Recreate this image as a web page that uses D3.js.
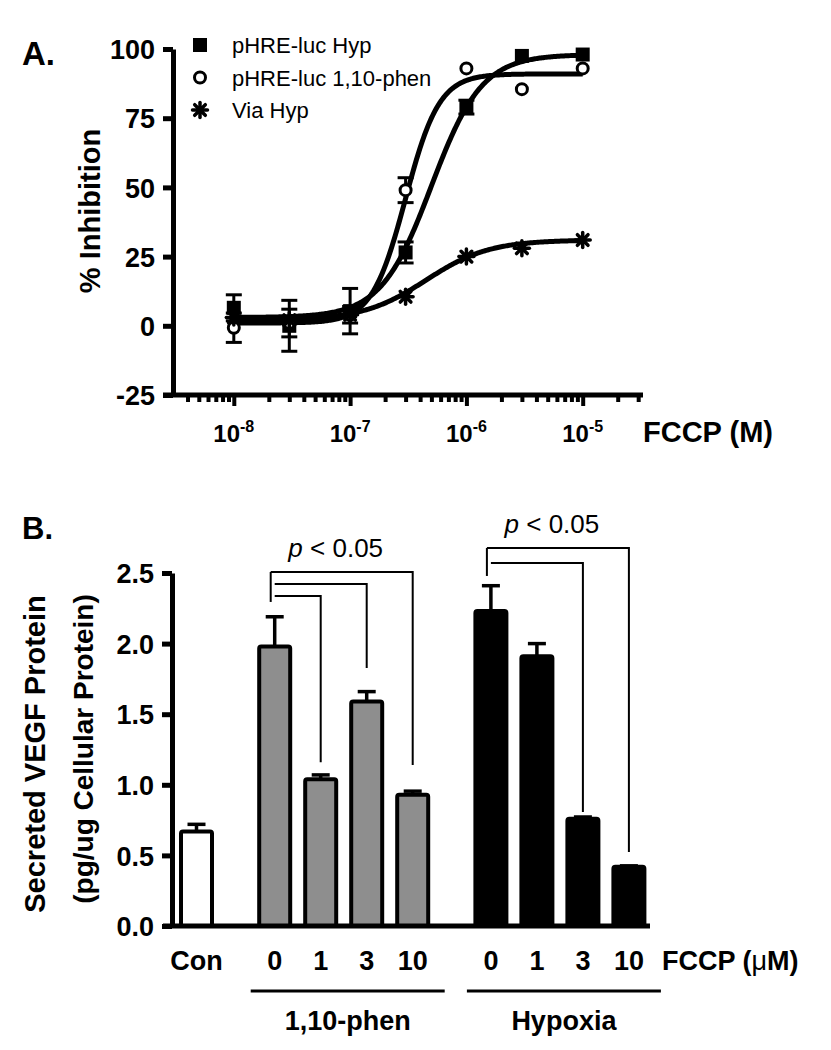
<!DOCTYPE html>
<html>
<head>
<meta charset="utf-8">
<script src="https://cdn.jsdelivr.net/npm/d3@7"></script>
<style>
  body { margin: 0; background: #fff; }
  text { font-family: "Liberation Sans", Arial, Helvetica, sans-serif; fill: #000; }
</style>
</head>
<body>
<svg id="chart" width="831" height="1050"></svg>
<script>
// ---------- panel A : FCCP dose response ----------
const fccpConc = [1e-8, 3e-8, 1e-7, 3e-7, 1e-6, 3e-6, 1e-5];
const hypMean  = [6.5, 0, 5.3, 26.5, 79, 97.5, 98];
const hypErr   = [4.7, 9.2, 8.2, 3.8, 2.5, 0, 0];
const phenMean = [-0.7, 1, 4, 49, 93, 85.5, 93];
const phenErr  = [5.3, 5, 3, 4.5, 0, 0, 0];
const viaMean  = [3, 2, 4, 10.5, 25, 28, 31];
const viaErr   = [0, 0, 0, 0, 0, 0, 0];
// sigmoid fits: bottom, top, EC50 (M), hill slope
const hypFit  = [3, 98, 5e-7, 2];
const phenFit = [1, 91, 3e-7, 3];
const viaFit  = [2, 31, 4.5e-7, 1.6];
const legendNames = ["pHRE-luc Hyp", "pHRE-luc 1,10-phen", "Via Hyp"];
const yTicksA = [-25, 0, 25, 50, 75, 100];
const xMajorA = [-8, -7, -6, -5];

// ---------- panel B : secreted VEGF ----------
const vegfLabels = ["Con", "0", "1", "3", "10", "0", "1", "3", "10"];
const vegfGroup  = [0, 1, 1, 1, 1, 2, 2, 2, 2];
const vegfMean   = [0.67, 1.98, 1.04, 1.59, 0.93, 2.23, 1.91, 0.76, 0.42];
const vegfErr    = [0.05, 0.21, 0.03, 0.07, 0.025, 0.18, 0.09, 0.012, 0.006];
const groupNames = ["1,10-phen", "Hypoxia"];
const groupFill  = ["#ffffff", "#8e8e8e", "#000000"];
const yTicksB = [0, 0.5, 1.0, 1.5, 2.0, 2.5];
// significance brackets: source bar, target bars, line levels, drop ends
const sigFrom    = [1, 5];
const sigTargets = [[4, 3, 2], [8, 7]];
const sigLevels  = [[2.507, 2.422, 2.337], [2.677, 2.571]];
const sigEnds    = [[1.14, 1.827, 1.16], [0.524, 0.807]];
const sigBase    = [2.295, 2.479];

const svg = d3.select("#chart");
svg.append("rect").attr("width", 831).attr("height", 1050).attr("fill", "#fff");

// ================= PANEL A =================
const xA = d3.scaleLog().domain([3e-9, 3.3e-5]).range([173, 643]);
const yA = d3.scaleLinear().domain([-25, 100]).range([395, 49]);

svg.append("text").attr("x", 22).attr("y", 65)
  .attr("font-size", 33).attr("font-weight", "bold").text("A.");

// fitted curves
function sigmoid(p) {
  return x => p[0] + (p[1] - p[0]) / (1 + Math.pow(p[2] / x, p[3]));
}
const curveX = d3.range(0, 301).map(i => Math.pow(10, -8 + i / 100));
const line = d3.line().x(d => xA(d[0])).y(d => yA(d[1]));
[hypFit, phenFit, viaFit].forEach(p => {
  const f = sigmoid(p);
  svg.append("path")
    .attr("d", line(curveX.map(x => [x, f(x)])))
    .attr("fill", "none").attr("stroke", "#000").attr("stroke-width", 5)
    .attr("stroke-linejoin", "round");
});

// error bars
const seriesA = [
  { mean: hypMean, err: hypErr, sym: "square" },
  { mean: phenMean, err: phenErr, sym: "circle" },
  { mean: viaMean, err: viaErr, sym: "star" }
];
seriesA.forEach(s => {
  const g = svg.append("g").attr("stroke", "#000").attr("stroke-width", 3);
  fccpConc.forEach((c, i) => {
    if (!s.err[i]) return;
    const x = xA(c), lo = yA(s.mean[i] - s.err[i]), hi = yA(s.mean[i] + s.err[i]);
    g.append("line").attr("x1", x).attr("x2", x).attr("y1", lo).attr("y2", hi);
    g.append("line").attr("x1", x - 8).attr("x2", x + 8).attr("y1", lo).attr("y2", lo);
    g.append("line").attr("x1", x - 8).attr("x2", x + 8).attr("y1", hi).attr("y2", hi);
  });
});

function drawSymbol(g, sym, x, y) {
  if (sym === "square") {
    g.append("rect").attr("x", x - 7).attr("y", y - 7).attr("width", 14).attr("height", 14)
      .attr("fill", "#000");
  } else if (sym === "circle") {
    g.append("circle").attr("cx", x).attr("cy", y).attr("r", 5.5)
      .attr("fill", "#fff").attr("stroke", "#000").attr("stroke-width", 3);
  } else {
    [0, 45, 90, 135].forEach(a => {
      const r = 7.5, t = a * Math.PI / 180;
      g.append("line")
        .attr("x1", x - r * Math.cos(t)).attr("y1", y - r * Math.sin(t))
        .attr("x2", x + r * Math.cos(t)).attr("y2", y + r * Math.sin(t))
        .attr("stroke", "#000").attr("stroke-width", 3.5).attr("stroke-linecap", "round");
    });
    g.append("circle").attr("cx", x).attr("cy", y).attr("r", 4).attr("fill", "#000");
  }
}
seriesA.forEach(s => {
  const g = svg.append("g");
  fccpConc.forEach((c, i) => drawSymbol(g, s.sym, xA(c), yA(s.mean[i])));
});

// legend
const legend = svg.append("g");
legendNames.forEach((name, i) => {
  const y = 45 + i * 32.5;
  drawSymbol(legend, seriesA[i].sym, 200, y);
  legend.append("text").attr("x", 232).attr("y", y + 8)
    .attr("font-size", 22).text(name);
});

// y axis A
const yAxisA = svg.append("g").attr("transform", "translate(173,0)")
  .call(d3.axisLeft(yA).tickValues(yTicksA).tickFormat(d => String(d))
    .tickSize(10).tickSizeOuter(0).tickPadding(8));
yAxisA.select(".domain").attr("stroke-width", 5);
yAxisA.selectAll(".tick line").attr("stroke-width", 5);
yAxisA.selectAll(".tick text").attr("font-size", 27).attr("font-weight", "bold")
  .attr("font-family", "Liberation Sans, Arial, sans-serif").attr("dy", "0.36em");

// x axis A (log, minor + major ticks)
const minorA = [];
for (let d = -9; d <= -5; d++) {
  for (let m = 2; m <= 9; m++) {
    const v = m * Math.pow(10, d);
    if (v >= 3.9e-9 && v <= 3.1e-5) minorA.push(v);
  }
}
const xAxisMinor = svg.append("g").attr("transform", "translate(0,395)")
  .call(d3.axisBottom(xA).tickValues(minorA).tickSize(7).tickFormat(""));
xAxisMinor.select(".domain").remove();
xAxisMinor.selectAll(".tick line").attr("stroke-width", 4);
const xAxisMajor = svg.append("g").attr("transform", "translate(0,395)")
  .call(d3.axisBottom(xA).tickValues(xMajorA.map(e => Math.pow(10, e))).tickSize(11).tickFormat(""));
xAxisMajor.selectAll(".tick line").attr("stroke-width", 4);
xAxisMajor.select(".domain").attr("stroke-width", 5)
  .attr("d", `M${xA.range()[0] - 10},0H${xA.range()[1]}`);

const xLab = svg.append("g");
xMajorA.forEach(e => {
  const t = xLab.append("text").attr("x", xA(Math.pow(10, e))).attr("y", 442)
    .attr("text-anchor", "middle").attr("font-weight", "bold").attr("font-size", 24);
  t.append("tspan").text("10");
  t.append("tspan").attr("font-size", 16).attr("dy", -10).text(String(e));
});
svg.append("text").attr("x", 643).attr("y", 442).attr("font-size", 29)
  .attr("font-weight", "bold").text("FCCP (M)");

svg.append("text").attr("transform", "translate(100,211) rotate(-90)")
  .attr("text-anchor", "middle").attr("font-size", 29).attr("font-weight", "bold")
  .text("% Inhibition");

// ================= PANEL B =================
const slot = vegfLabels.map((d, i) => i + 0.7 * vegfGroup[i]);
const xB = d3.scaleLinear().domain([0, d3.max(slot)]).range([196.5, 628.9]);
const yB = d3.scaleLinear().domain([0, 2.5]).range([926, 573]);
const barW = 31;

svg.append("text").attr("x", 22).attr("y", 539)
  .attr("font-size", 31).attr("font-weight", "bold").text("B.");

// bars
svg.append("g").selectAll("rect").data(vegfMean).join("rect")
  .attr("x", (d, i) => xB(slot[i]) - barW / 2)
  .attr("y", d => yB(d))
  .attr("width", barW)
  .attr("height", d => yB(0) - yB(d))
  .attr("rx", 2)
  .attr("fill", (d, i) => groupFill[vegfGroup[i]])
  .attr("stroke", "#000").attr("stroke-width", 4);

// error bars (upper only)
const errB = svg.append("g").attr("stroke", "#000").attr("stroke-width", 3.5);
vegfMean.forEach((m, i) => {
  const x = xB(slot[i]), top = yB(m + vegfErr[i]);
  errB.append("line").attr("x1", x).attr("x2", x).attr("y1", yB(m)).attr("y2", top);
  errB.append("line").attr("x1", x - 9).attr("x2", x + 9).attr("y1", top).attr("y2", top);
});

// significance brackets
const sig = svg.append("g").attr("stroke", "#000").attr("stroke-width", 2).attr("fill", "none");
sigFrom.forEach((src, k) => {
  const sx = xB(slot[src]) - 4;
  sig.append("line").attr("x1", sx).attr("x2", sx)
    .attr("y1", yB(sigBase[k])).attr("y2", yB(sigLevels[k][0]));
  sigTargets[k].forEach((t, j) => {
    const tx = xB(slot[t]), ly = yB(sigLevels[k][j]);
    sig.append("path")
      .attr("d", `M${j === 0 ? sx : sx + 4},${ly}H${tx}V${yB(sigEnds[k][j])}`);
  });
  const cx = (sx + xB(slot[sigTargets[k][0]])) / 2 - 6;
  const t = svg.append("text").attr("x", cx).attr("y", yB(sigLevels[k][0]) - 15)
    .attr("text-anchor", "middle").attr("font-size", 26);
  t.append("tspan").attr("font-style", "italic").text("p");
  t.append("tspan").text(" < 0.05");
});

// y axis B
const yAxisB = svg.append("g").attr("transform", "translate(172,0)")
  .call(d3.axisLeft(yB).tickValues(yTicksB).tickFormat(d3.format(".1f"))
    .tickSize(10).tickSizeOuter(0).tickPadding(8));
yAxisB.select(".domain").attr("stroke-width", 5);
yAxisB.selectAll(".tick line").attr("stroke-width", 5);
yAxisB.selectAll(".tick text").attr("font-size", 27).attr("font-weight", "bold")
  .attr("font-family", "Liberation Sans, Arial, sans-serif").attr("dy", "0.36em");
svg.append("line").attr("x1", 163).attr("x2", 650).attr("y1", yB(0)).attr("y2", yB(0))
  .attr("stroke", "#000").attr("stroke-width", 5);

// category labels
svg.append("g").selectAll("text").data(vegfLabels).join("text")
  .attr("x", (d, i) => xB(slot[i])).attr("y", 970)
  .attr("text-anchor", "middle").attr("font-size", 27).attr("font-weight", "bold")
  .text(d => d);
const fccpB = svg.append("text").attr("x", 662).attr("y", 970)
  .attr("font-size", 27).attr("font-weight", "bold");
fccpB.append("tspan").text("FCCP (");
fccpB.append("tspan").attr("font-weight", "normal").text("\u03bc");
fccpB.append("tspan").text("M)");

// group underlines + names
groupNames.forEach((name, k) => {
  const idx = vegfGroup.map((g, i) => g === k + 1 ? i : -1).filter(i => i >= 0);
  const x0 = xB(slot[idx[0]]) - 24, x1 = xB(slot[idx[idx.length - 1]]) + 32;
  svg.append("line").attr("x1", x0).attr("x2", x1).attr("y1", 991).attr("y2", 991)
    .attr("stroke", "#000").attr("stroke-width", 3);
  svg.append("text").attr("x", (x0 + x1) / 2).attr("y", 1030)
    .attr("text-anchor", "middle").attr("font-size", 27).attr("font-weight", "bold")
    .text(name);
});

// y label B
svg.append("text").attr("transform", "translate(45,754) rotate(-90)")
  .attr("text-anchor", "middle").attr("font-size", 29).attr("font-weight", "bold")
  .text("Secreted VEGF Protein");
svg.append("text").attr("transform", "translate(93,749) rotate(-90)")
  .attr("text-anchor", "middle").attr("font-size", 28).attr("font-weight", "bold")
  .text("(pg/ug Cellular Protein)");
</script>
</body>
</html>
